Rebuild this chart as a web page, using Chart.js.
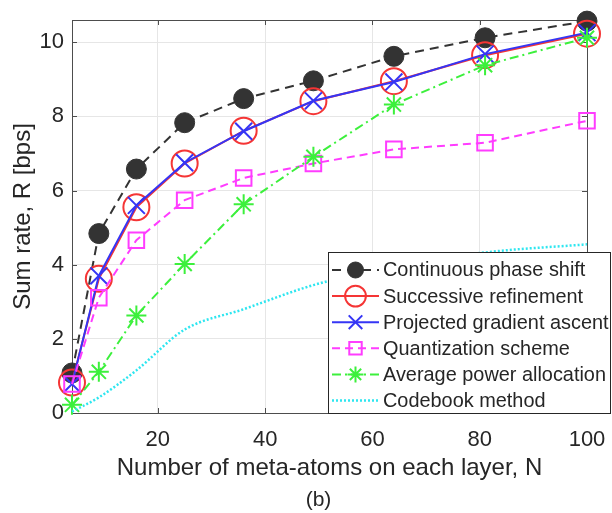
<!DOCTYPE html>
<html lang="en">
<head>
<meta charset="UTF-8">
<title>Sum rate vs. meta-atoms</title>
<script src="https://cdn.jsdelivr.net/npm/chart.js@4"></script>
<style>
  html, body { margin: 0; padding: 0; background: #fff; }
  #wrap { width: 612px; height: 513px; }
</style>
</head>
<body>
<div id="wrap"><canvas id="rateChart" width="612" height="513"></canvas></div>
<script>
// meta-atoms per layer (x) and sum rate in bps for each scheme
const metaAtoms       = [4, 9, 16, 25, 36, 49, 64, 81, 100];
const continuousPhase = [1.08, 4.84, 6.58, 7.83, 8.48, 8.96, 9.62, 10.12, 10.57];
const successiveRef   = [0.82, 3.62, 5.55, 6.73, 7.61, 8.41, 8.95, 9.65, 10.23];
const projectedGrad   = [0.78, 3.70, 5.60, 6.75, 7.60, 8.42, 8.93, 9.68, 10.26];
const quantization    = [0.78, 3.11, 4.66, 5.74, 6.34, 6.73, 7.11, 7.29, 7.88];
const avgPower        = [0.22, 1.11, 2.63, 4.02, 5.63, 6.91, 8.32, 9.38, 10.12];
const codebook        = [0.04, 0.42, 1.15, 2.25, 2.80, 3.45, 3.95, 4.33, 4.55];

const xTicks = [20, 40, 60, 80, 100];
const yTicks = [0, 2, 4, 6, 8, 10];

const FONT = "'Liberation Sans', Arial, Helvetica, sans-serif";
const TEXT = '#262626';
const AXIS = '#4d4d4d';

Chart.defaults.font.family = FONT;
Chart.defaults.color = TEXT;

function pts(arr) {
    return metaAtoms.map((n, i) => ({ x: n, y: arr[i] }));
}

// axes box with inward tick marks
const frame = {
    id: 'frame',
    beforeDatasetsDraw(chart) {
        const { ctx, chartArea: a, scales } = chart;
        ctx.save();
        ctx.strokeStyle = AXIS;
        ctx.lineWidth = 1;
        ctx.strokeRect(Math.round(a.left) + 0.5, Math.round(a.top) + 0.5,
                       Math.round(a.right - a.left), Math.round(a.bottom - a.top));
        ctx.beginPath();
        xTicks.forEach(v => {
            const px = Math.round(scales.x.getPixelForValue(v)) + 0.5;
            ctx.moveTo(px, a.bottom); ctx.lineTo(px, a.bottom - 5);
            ctx.moveTo(px, a.top); ctx.lineTo(px, a.top + 5);
        });
        yTicks.forEach(v => {
            const py = Math.round(scales.y.getPixelForValue(v)) + 0.5;
            ctx.moveTo(a.left, py); ctx.lineTo(a.left + 5, py);
            ctx.moveTo(a.right, py); ctx.lineTo(a.right - 5, py);
        });
        ctx.stroke();
        ctx.restore();
    },
    afterDraw(chart) {
        const ctx = chart.ctx;
        ctx.save();

        // legend box
        const box = { left: 328.5, top: 252.5, right: 610.5, bottom: 413.5 };
        ctx.fillStyle = '#fff';
        ctx.fillRect(box.left, box.top, box.right - box.left, box.bottom - box.top);
        ctx.strokeStyle = '#262626';
        ctx.lineWidth = 1;
        ctx.strokeRect(box.left, box.top, box.right - box.left, box.bottom - box.top);

        chart.data.datasets.forEach((ds, i) => {
            const y = 270 + i * 26.1;
            ctx.save();
            ctx.strokeStyle = ds.borderColor;
            ctx.lineWidth = ds.borderWidth;
            ctx.setLineDash(ds.borderDash || []);
            ctx.beginPath();
            ctx.moveTo(332, y); ctx.lineTo(379, y);
            ctx.stroke();
            ctx.restore();
            if (ds.pointRadius > 0) {
                ctx.save();
                ctx.setLineDash([]);
                ctx.fillStyle = ds.pointBackgroundColor;
                ctx.strokeStyle = ds.pointBorderColor;
                ctx.lineWidth = ds.pointBorderWidth;
                Chart.helpers.drawPoint(ctx, {
                    pointStyle: ds.pointStyle,
                    radius: ds.pointRadius * 0.8,
                    borderWidth: ds.pointBorderWidth,
                    rotation: 0
                }, 355.5, y);
                ctx.restore();
            }
            ctx.fillStyle = TEXT;
            ctx.font = '19.9px ' + FONT;
            ctx.textAlign = 'left';
            ctx.textBaseline = 'middle';
            ctx.fillText(ds.label, 383, y + 1);
        });

        // panel tag
        ctx.fillStyle = TEXT;
        ctx.font = '21px ' + FONT;
        ctx.textAlign = 'center';
        ctx.textBaseline = 'middle';
        ctx.fillText('(b)', 318.5, 500);
        ctx.restore();
    }
};

const hollow = 'rgba(0,0,0,0)';

new Chart(document.getElementById('rateChart'), {
    type: 'line',
    data: {
        datasets: [
            {
                label: 'Continuous phase shift', data: pts(continuousPhase),
                borderColor: '#333333', borderWidth: 2, borderDash: [9, 6],
                pointStyle: 'circle', pointRadius: 10,
                pointBackgroundColor: '#333333', pointBorderColor: '#333333', pointBorderWidth: 1,
                order: 6
            },
            {
                label: 'Successive refinement', data: pts(successiveRef),
                borderColor: '#f53535', borderWidth: 2,
                pointStyle: 'circle', pointRadius: 13,
                pointBackgroundColor: hollow, pointBorderColor: '#f53535', pointBorderWidth: 2,
                order: 5
            },
            {
                label: 'Projected gradient ascent', data: pts(projectedGrad),
                borderColor: '#3535f5', borderWidth: 2,
                pointStyle: 'crossRot', pointRadius: 12,
                pointBackgroundColor: hollow, pointBorderColor: '#3535f5', pointBorderWidth: 2,
                order: 4
            },
            {
                label: 'Quantization scheme', data: pts(quantization),
                borderColor: '#ff3cff', borderWidth: 2, borderDash: [8, 5],
                pointStyle: 'rect', pointRadius: 11,
                pointBackgroundColor: hollow, pointBorderColor: '#ff3cff', pointBorderWidth: 2,
                order: 3
            },
            {
                label: 'Average power allocation', data: pts(avgPower),
                borderColor: '#3cf03c', borderWidth: 2, borderDash: [9, 4, 2, 4],
                pointStyle: 'star', pointRadius: 10,
                pointBackgroundColor: hollow, pointBorderColor: '#3cf03c', pointBorderWidth: 2,
                order: 2
            },
            {
                label: 'Codebook method', data: pts(codebook),
                borderColor: '#2ee6f0', borderWidth: 2.5, borderDash: [2, 2],
                cubicInterpolationMode: 'monotone',
                pointRadius: 0, pointBackgroundColor: hollow, pointBorderColor: hollow, pointBorderWidth: 0,
                order: 1
            }
        ]
    },
    options: {
        responsive: false,
        animation: false,
        events: [],
        clip: false,
        layout: { padding: { left: 0, right: 25, top: 20, bottom: 0 } },
        plugins: {
            legend: { display: false },
            tooltip: { enabled: false }
        },
        scales: {
            x: {
                type: 'linear',
                min: 4, max: 100,
                afterFit(s) {
                    s.height = 100;
                    s.paddingLeft = 0; s.paddingRight = 0;
                },
                afterBuildTicks(s) { s.ticks = xTicks.map(v => ({ value: v })); },
                grid: { color: '#e6e6e6', drawTicks: false },
                border: { display: false },
                ticks: { padding: 14, font: { size: 22 }, color: TEXT, maxRotation: 0 },
                title: {
                    display: true, text: 'Number of meta-atoms on each layer, N',
                    font: { size: 24 }, color: TEXT, padding: { top: 0, bottom: 30 }
                }
            },
            y: {
                min: 0, max: 10.6,
                afterFit(s) {
                    s.width = 72;
                    s.paddingTop = 0; s.paddingBottom = 0;
                },
                afterBuildTicks(s) { s.ticks = yTicks.map(v => ({ value: v })); },
                grid: { color: '#e6e6e6', drawTicks: false },
                border: { display: false },
                ticks: { padding: 8, font: { size: 22 }, color: TEXT },
                title: {
                    display: true, text: 'Sum rate, R [bps]',
                    font: { size: 24 }, color: TEXT, padding: { top: 9, bottom: 0 }
                }
            }
        }
    },
    plugins: [frame]
});
</script>
</body>
</html>
